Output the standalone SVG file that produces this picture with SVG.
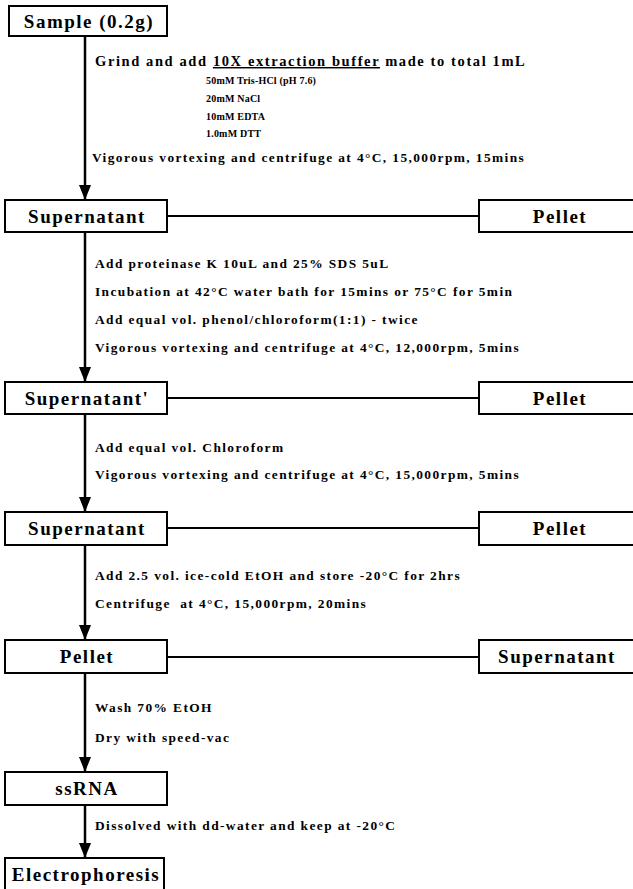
<svg xmlns="http://www.w3.org/2000/svg" width="633" height="889" viewBox="0 0 633 889">
<defs>
<marker id="ah" markerWidth="15" markerHeight="12" refX="15" refY="6" orient="auto" markerUnits="userSpaceOnUse" viewBox="0 0 15 12">
<path d="M0,0 L15,6 L0,12 Z" fill="#000"/>
</marker>
</defs>
<style>
.box{fill:#fff;stroke:#000;stroke-width:2}
.lbl{font-family:"Liberation Serif","Times New Roman",serif;font-weight:bold;font-size:19px;letter-spacing:1.5px;text-anchor:middle;fill:#000}
.t{font-family:"Liberation Serif","Times New Roman",serif;font-weight:bold;font-size:13.4px;letter-spacing:1.4px;fill:#000}
.g{font-family:"Liberation Serif","Times New Roman",serif;font-weight:bold;font-size:14.5px;letter-spacing:1.6px;fill:#000}
.s{font-family:"Liberation Serif","Times New Roman",serif;font-weight:bold;font-size:10px;letter-spacing:0.2px;fill:#000}
.c{stroke:#000;stroke-width:2;fill:none}
.a{stroke:#000;stroke-width:2.5;fill:none;marker-end:url(#ah)}
</style>
<rect width="633" height="889" fill="#fff"/>
<g id="connectors">
<line class="a" x1="85" y1="36" x2="85" y2="200"/>
<line class="a" x1="85" y1="232" x2="85" y2="382"/>
<line class="a" x1="85" y1="414" x2="85" y2="512"/>
<line class="a" x1="85" y1="545" x2="85" y2="640"/>
<line class="a" x1="85" y1="673" x2="85" y2="772"/>
<line class="a" x1="85" y1="805" x2="85" y2="858"/>
<line class="c" x1="167" y1="216" x2="479" y2="216"/>
<line class="c" x1="167" y1="398" x2="479" y2="398"/>
<line class="c" x1="167" y1="528" x2="479" y2="528"/>
<line class="c" x1="167" y1="657" x2="479" y2="657"/>
</g>
<g id="sample"><rect class="box" x="9" y="6" width="158" height="30"/><text class="lbl" x="89" y="28">Sample (0.2g)</text></g>
<g id="supernatant1"><rect class="box" x="5" y="200" width="162" height="32"/><text class="lbl" x="87" y="223">Supernatant</text></g>
<g id="pellet1"><rect class="box" x="479" y="200" width="170" height="32"/><text class="lbl" x="560" y="223">Pellet</text></g>
<g id="supernatant2"><rect class="box" x="5" y="382" width="162" height="32"/><text class="lbl" x="87" y="405">Supernatant'</text></g>
<g id="pellet2"><rect class="box" x="479" y="382" width="170" height="32"/><text class="lbl" x="560" y="405">Pellet</text></g>
<g id="supernatant3"><rect class="box" x="5" y="512" width="162" height="33"/><text class="lbl" x="87" y="535">Supernatant</text></g>
<g id="pellet3"><rect class="box" x="479" y="512" width="170" height="33"/><text class="lbl" x="560" y="535">Pellet</text></g>
<g id="pellet4"><rect class="box" x="5" y="640" width="162" height="33"/><text class="lbl" x="87" y="663">Pellet</text></g>
<g id="supernatant4"><rect class="box" x="479" y="640" width="170" height="33"/><text class="lbl" x="557" y="663">Supernatant</text></g>
<g id="ssrna"><rect class="box" x="5" y="772" width="162" height="33"/><text class="lbl" x="87" y="795">ssRNA</text></g>
<g id="electrophoresis"><rect class="box" x="5" y="858" width="159" height="36"/><text class="lbl" x="86" y="881">Electrophoresis</text></g>
<g id="steps">
<text class="g" x="95" y="66">Grind and add <tspan text-decoration="underline">10X extraction buffer</tspan> made to total 1mL</text>
<text class="s" x="206" y="84">50mM Tris-HCl (pH 7.6)</text>
<text class="s" x="206" y="102">20mM NaCl</text>
<text class="s" x="206" y="120">10mM EDTA</text>
<text class="s" x="206" y="137">1.0mM DTT</text>
<text class="t" x="92" y="162">Vigorous vortexing and centrifuge at 4°C, 15,000rpm, 15mins</text>
<text class="t" x="95" y="268">Add proteinase K 10uL and 25% SDS 5uL</text>
<text class="t" x="95" y="296">Incubation at 42°C water bath for 15mins or 75°C for 5min</text>
<text class="t" x="95" y="324">Add equal vol. phenol/chloroform(1:1) - twice</text>
<text class="t" x="95" y="352">Vigorous vortexing and centrifuge at 4°C, 12,000rpm, 5mins</text>
<text class="t" x="95" y="452">Add equal vol. Chloroform</text>
<text class="t" x="95" y="479">Vigorous vortexing and centrifuge at 4°C, 15,000rpm, 5mins</text>
<text class="t" x="95" y="580">Add 2.5 vol. ice-cold EtOH and store -20°C for 2hrs</text>
<text class="t" x="95" y="608" xml:space="preserve">Centrifuge  at 4°C, 15,000rpm, 20mins</text>
<text class="t" x="95" y="712">Wash 70% EtOH</text>
<text class="t" x="95" y="742">Dry with speed-vac</text>
<text class="t" x="95" y="830">Dissolved with dd-water and keep at -20°C</text>
</g>
</svg>
